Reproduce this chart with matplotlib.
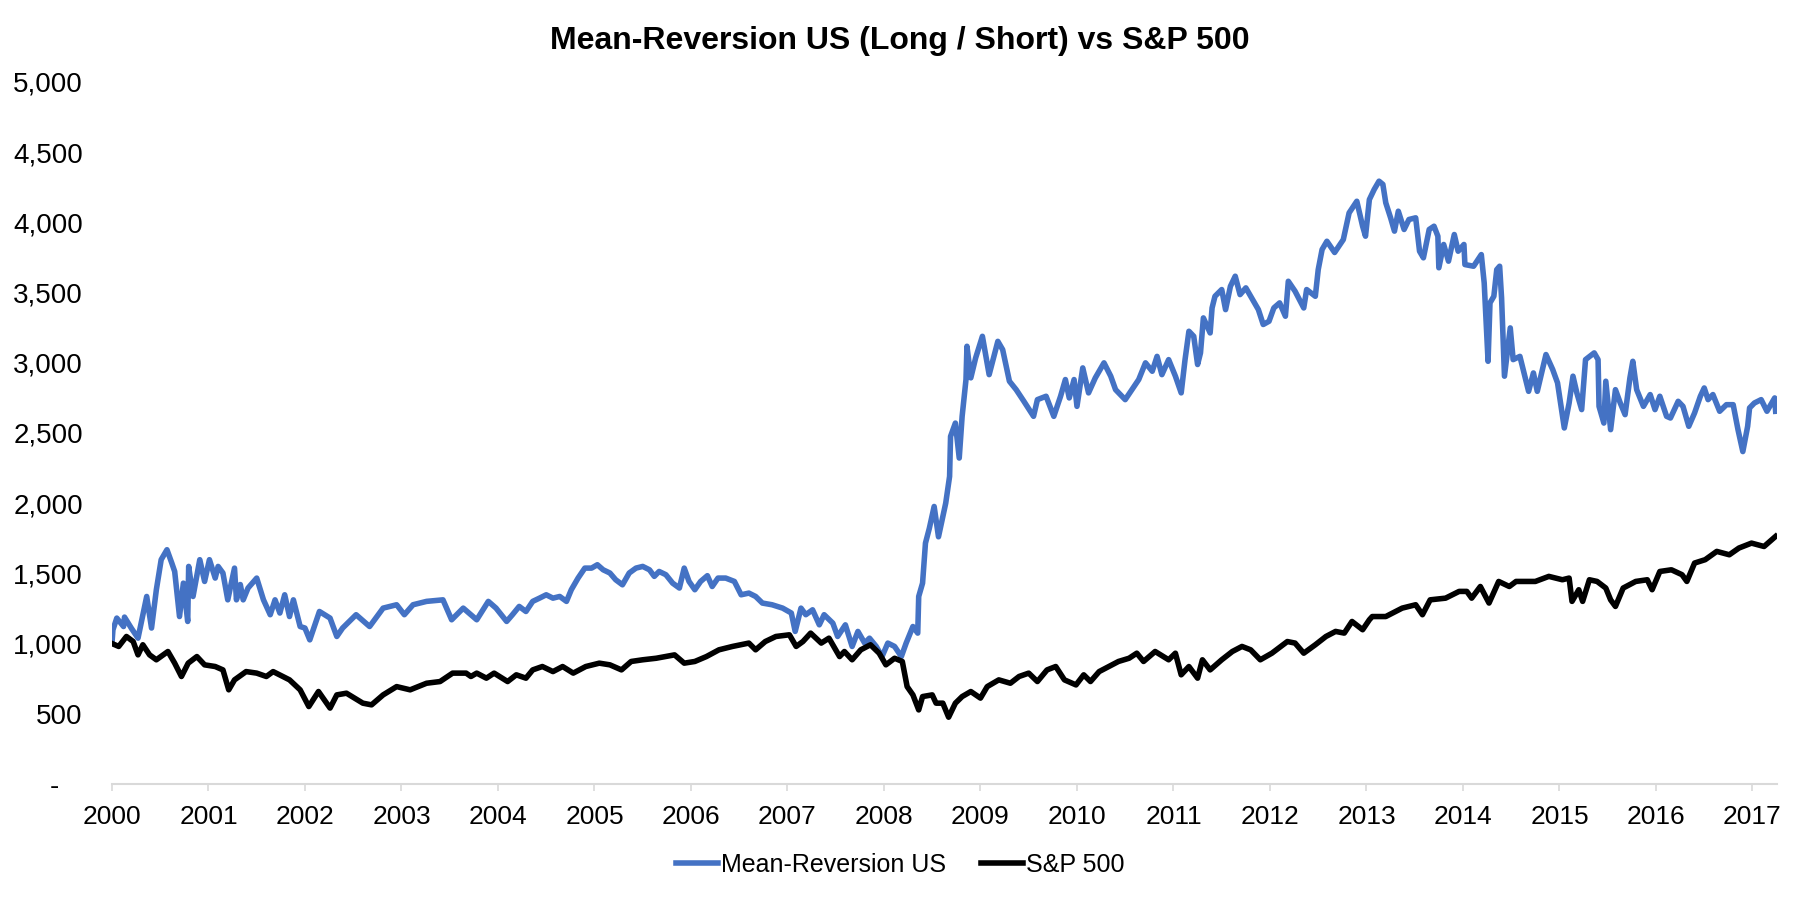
import matplotlib
matplotlib.use("Agg")
import matplotlib.pyplot as plt
from matplotlib.ticker import FuncFormatter

plt.rcParams['font.family'] = ['Liberation Sans Narrow', 'Liberation Sans', 'DejaVu Sans']

# Mean-Reversion US (Long / Short) (fractional years)
mr_years = [2000.00, 2000.01, 2000.05, 2000.12, 2000.13, 2000.20, 2000.27, 2000.36, 2000.41, 2000.46,
            2000.51, 2000.57, 2000.62, 2000.65, 2000.70, 2000.74, 2000.785, 2000.795, 2000.84, 2000.91,
            2000.96, 2001.01, 2001.07, 2001.10, 2001.15, 2001.20, 2001.27, 2001.29, 2001.33, 2001.36,
            2001.41, 2001.50, 2001.57, 2001.64, 2001.69, 2001.74, 2001.79, 2001.84, 2001.88, 2001.95,
            2002.00, 2002.05, 2002.15, 2002.26, 2002.33, 2002.39, 2002.53, 2002.67, 2002.81, 2002.95,
            2003.03, 2003.12, 2003.26, 2003.43, 2003.52, 2003.64, 2003.78, 2003.90, 2003.98, 2004.09,
            2004.15, 2004.22, 2004.29, 2004.36, 2004.43, 2004.50, 2004.57, 2004.64, 2004.71, 2004.76,
            2004.83, 2004.90, 2004.97, 2005.03, 2005.09, 2005.16, 2005.22, 2005.29, 2005.36, 2005.43,
            2005.50, 2005.57, 2005.62, 2005.67, 2005.74, 2005.81, 2005.88, 2005.93, 2005.98, 2006.04,
            2006.10, 2006.17, 2006.22, 2006.28, 2006.36, 2006.45, 2006.52, 2006.60, 2006.67, 2006.74,
            2006.84, 2006.95, 2007.04, 2007.08, 2007.14, 2007.19, 2007.26, 2007.33, 2007.38, 2007.47,
            2007.52, 2007.60, 2007.67, 2007.73, 2007.80, 2007.85, 2007.92, 2007.98, 2008.04, 2008.11,
            2008.18, 2008.23, 2008.30, 2008.35, 2008.36, 2008.40, 2008.43, 2008.47, 2008.52, 2008.565,
            2008.64, 2008.68, 2008.69, 2008.74, 2008.78, 2008.81, 2008.85, 2008.86, 2008.90, 2008.95,
            2009.02, 2009.09, 2009.18, 2009.23, 2009.30, 2009.37, 2009.45, 2009.55, 2009.59, 2009.68,
            2009.76, 2009.83, 2009.88, 2009.92, 2009.97, 2010.00, 2010.06, 2010.12, 2010.19, 2010.28,
            2010.35, 2010.40, 2010.50, 2010.57, 2010.64, 2010.71, 2010.78, 2010.83, 2010.88, 2010.95,
            2011.02, 2011.08, 2011.12, 2011.16, 2011.21, 2011.25, 2011.28, 2011.31, 2011.38, 2011.40,
            2011.43, 2011.50, 2011.54, 2011.59, 2011.64, 2011.69, 2011.75, 2011.81, 2011.88, 2011.93,
            2011.99, 2012.04, 2012.10, 2012.16, 2012.19, 2012.26, 2012.35, 2012.38, 2012.47, 2012.50,
            2012.54, 2012.59, 2012.67, 2012.76, 2012.82, 2012.90, 2012.96, 2012.99, 2013.03, 2013.08,
            2013.13, 2013.17, 2013.20, 2013.25, 2013.29, 2013.33, 2013.39, 2013.44, 2013.51, 2013.55,
            2013.59, 2013.65, 2013.70, 2013.74, 2013.75, 2013.80, 2013.85, 2013.91, 2013.95, 2014.01,
            2014.02, 2014.11, 2014.19, 2014.22, 2014.26, 2014.28, 2014.32, 2014.35, 2014.38, 2014.40,
            2014.43, 2014.49, 2014.52, 2014.59, 2014.68, 2014.73, 2014.77, 2014.86, 2014.93, 2014.98,
            2015.05, 2015.10, 2015.14, 2015.18, 2015.23, 2015.27, 2015.36, 2015.40, 2015.41, 2015.46,
            2015.48, 2015.53, 2015.58, 2015.63, 2015.68, 2015.73, 2015.76, 2015.80, 2015.87, 2015.94,
            2015.99, 2016.04, 2016.11, 2016.15, 2016.23, 2016.28, 2016.34, 2016.40, 2016.46, 2016.50,
            2016.54, 2016.59, 2016.66, 2016.73, 2016.80, 2016.85, 2016.90, 2016.95, 2016.97, 2017.02,
            2017.09, 2017.15, 2017.20, 2017.23, 2017.24]
mr_values = [1000, 1097, 1181, 1121, 1188, 1110, 1038, 1335, 1110, 1383,
             1597, 1668, 1573, 1513, 1192, 1430, 1157, 1549, 1335, 1597,
             1442, 1597, 1466, 1549, 1502, 1311, 1537, 1311, 1420, 1311,
             1395, 1466, 1311, 1205, 1311, 1217, 1347, 1192, 1311, 1121,
             1110, 1026, 1228, 1181, 1050, 1110, 1205, 1121, 1252, 1276,
             1205, 1276, 1300, 1311, 1169, 1252, 1169, 1300, 1252, 1157,
             1205, 1264, 1228, 1300, 1323, 1347, 1323, 1335, 1300, 1383,
             1466, 1537, 1537, 1561, 1525, 1502, 1454, 1418, 1502, 1537,
             1549, 1525, 1478, 1513, 1490, 1430, 1395, 1537, 1442, 1383,
             1442, 1483, 1406, 1466, 1466, 1442, 1347, 1359, 1335, 1288,
             1276, 1252, 1217, 1086, 1252, 1205, 1240, 1133, 1205, 1145,
             1050, 1133, 979, 1086, 1003, 1038, 979, 907, 1003, 979,
             907, 1003, 1121, 1074, 1335, 1430, 1715, 1820, 1976, 1760,
             2000, 2190, 2475, 2570, 2321, 2618, 2880, 3117, 2892, 3034,
             3188, 2915, 3152, 3093, 2868, 2808, 2725, 2618, 2737, 2761,
             2618, 2761, 2880, 2749, 2880, 2689, 2963, 2785, 2892, 2999,
             2904, 2808, 2737, 2808, 2880, 2999, 2939, 3045, 2915, 3022,
             2904, 2785, 3022, 3224, 3188, 2987, 3070, 3319, 3212, 3390,
             3473, 3521, 3378, 3544, 3616, 3485, 3533, 3462, 3378, 3272,
             3295, 3390, 3426, 3331, 3580, 3509, 3390, 3521, 3473, 3663,
             3806, 3865, 3785, 3877, 4067, 4150, 3972, 3901, 4162, 4234,
             4293, 4270, 4139, 4032, 3937, 4079, 3949, 4020, 4032, 3794,
             3747, 3949, 3972, 3901, 3676, 3842, 3723, 3913, 3794, 3842,
             3699, 3687, 3770, 3568, 3010, 3426, 3473, 3663, 3687, 3462,
             2904, 3248, 3022, 3045, 2796, 2927, 2796, 3058, 2951, 2856,
             2535, 2713, 2904, 2785, 2666, 3022, 3070, 3022, 2689, 2570,
             2868, 2523, 2808, 2713, 2630, 2892, 3010, 2808, 2689, 2773,
             2666, 2761, 2618, 2606, 2725, 2689, 2547, 2642, 2761, 2820,
             2737, 2773, 2654, 2701, 2701, 2523, 2367, 2547, 2678, 2713,
             2737, 2654, 2713, 2749, 2654]

# S&P 500, rebased to 1,000
spx_years = [2000.00, 2000.07, 2000.15, 2000.22, 2000.27, 2000.32, 2000.39, 2000.46, 2000.58, 2000.65,
             2000.72, 2000.79, 2000.88, 2000.96, 2001.07, 2001.15, 2001.21, 2001.27, 2001.39, 2001.50,
             2001.60, 2001.67, 2001.84, 2001.95, 2002.04, 2002.14, 2002.26, 2002.33, 2002.43, 2002.60,
             2002.69, 2002.81, 2002.95, 2003.09, 2003.26, 2003.40, 2003.53, 2003.67, 2003.72, 2003.78,
             2003.88, 2003.96, 2004.10, 2004.19, 2004.29, 2004.36, 2004.46, 2004.57, 2004.67, 2004.78,
             2004.91, 2005.05, 2005.16, 2005.28, 2005.38, 2005.50, 2005.64, 2005.83, 2005.93, 2006.04,
             2006.16, 2006.29, 2006.43, 2006.60, 2006.67, 2006.77, 2006.88, 2007.02, 2007.09, 2007.16,
             2007.24, 2007.35, 2007.43, 2007.54, 2007.59, 2007.67, 2007.76, 2007.86, 2007.95, 2008.02,
             2008.11, 2008.19, 2008.24, 2008.30, 2008.36, 2008.40, 2008.50, 2008.54, 2008.61, 2008.67,
             2008.74, 2008.81, 2008.90, 2009.00, 2009.07, 2009.19, 2009.31, 2009.40, 2009.50, 2009.59,
             2009.69, 2009.78, 2009.87, 2009.99, 2010.07, 2010.14, 2010.23, 2010.33, 2010.43, 2010.54,
             2010.62, 2010.69, 2010.81, 2010.95, 2011.02, 2011.08, 2011.16, 2011.25, 2011.30, 2011.38,
             2011.50, 2011.61, 2011.71, 2011.80, 2011.90, 2012.02, 2012.18, 2012.26, 2012.35, 2012.47,
             2012.58, 2012.68, 2012.77, 2012.85, 2012.96, 2013.03, 2013.06, 2013.20, 2013.37, 2013.51,
             2013.58, 2013.66, 2013.82, 2013.96, 2014.04, 2014.09, 2014.18, 2014.27, 2014.37, 2014.48,
             2014.55, 2014.65, 2014.75, 2014.89, 2015.03, 2015.10, 2015.13, 2015.20, 2015.24, 2015.31,
             2015.39, 2015.48, 2015.53, 2015.58, 2015.66, 2015.79, 2015.91, 2015.96, 2016.04, 2016.16,
             2016.27, 2016.32, 2016.40, 2016.51, 2016.63, 2016.76, 2016.86, 2016.99, 2017.12, 2017.24]
spx_values = [1000, 979, 1050, 1014, 919, 991, 919, 884, 943, 860,
              765, 860, 907, 848, 836, 812, 670, 741, 800, 789,
              765, 800, 741, 670, 551, 658, 540, 634, 646, 575,
              563, 634, 693, 670, 717, 729, 789, 789, 765, 789,
              753, 789, 729, 777, 753, 812, 836, 800, 836, 789,
              836, 860, 848, 812, 872, 884, 895, 919, 860, 872,
              907, 955, 979, 1003, 955, 1014, 1050, 1062, 979, 1014,
              1074, 1003, 1038, 907, 943, 884, 955, 991, 931, 848,
              895, 872, 693, 634, 527, 622, 634, 575, 575, 475,
              575, 622, 658, 611, 693, 741, 717, 765, 789, 729,
              812, 836, 741, 705, 777, 729, 800, 836, 872, 895,
              931, 872, 943, 884, 931, 777, 836, 753, 884, 812,
              884, 943, 979, 955, 884, 931, 1014, 1003, 931, 991,
              1050, 1086, 1074, 1157, 1098, 1169, 1192, 1192, 1252, 1276,
              1205, 1311, 1323, 1371, 1371, 1323, 1406, 1288, 1442, 1406,
              1442, 1442, 1442, 1478, 1454, 1466, 1300, 1383, 1300, 1454,
              1442, 1395, 1311, 1264, 1395, 1442, 1454, 1383, 1513, 1525,
              1490, 1442, 1573, 1597, 1656, 1632, 1680, 1715, 1691, 1763]

year_ticks = list(range(2000, 2018))
value_ticks = [0, 500, 1000, 1500, 2000, 2500, 3000, 3500, 4000, 4500, 5000]

fig = plt.figure(figsize=(18, 9), dpi=100)
ax = fig.add_axes([0.0622, 0.129, 0.9248, 0.78])

ax.plot(mr_years, mr_values, color='#4472C4', linewidth=4, label='Mean-Reversion US')
ax.plot(spx_years, spx_values, color='#000000', linewidth=4, label='S&P 500')

ax.set_xlim(2000, 2017.25)
ax.set_ylim(0, 5000)
ax.set_xticks(year_ticks)
ax.set_yticks(value_ticks)
ax.yaxis.set_major_formatter(FuncFormatter(lambda v, p: '-   ' if v == 0 else f'{v:,.0f}'))

for s in ['top', 'right', 'left']:
    ax.spines[s].set_visible(False)
ax.spines['bottom'].set_color('#D9D9D9')
ax.spines['bottom'].set_linewidth(1.5)
ax.tick_params(axis='x', colors='#D9D9D9', length=5, width=1.2, labelsize=19, labelcolor='#000000', pad=10)
ax.tick_params(axis='y', length=0, labelsize=20, labelcolor='#000000', pad=21)

fig.text(0.5, 0.955, 'Mean-Reversion US (Long / Short) vs S&P 500', ha='center', va='center',
         fontsize=23, fontweight='bold')

fig.legend(loc='center', bbox_to_anchor=(0.5, 0.039), ncol=2, frameon=False, fontsize=18,
           handlelength=1.7, handletextpad=0.1, columnspacing=1.4)

fig.savefig('out.png', dpi=100)
